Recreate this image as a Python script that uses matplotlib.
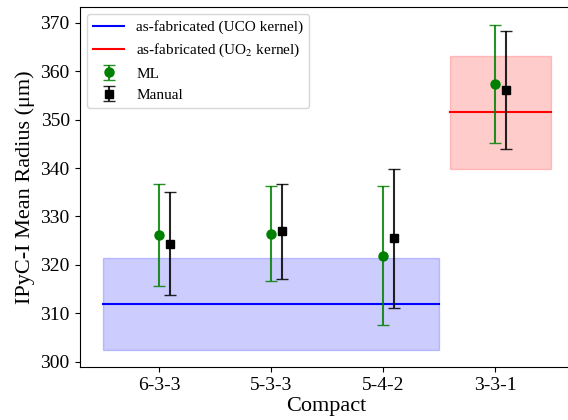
import matplotlib
matplotlib.use("Agg")
import matplotlib.pyplot as plt
import numpy as np

plt.rcParams['font.family'] = ['Liberation Serif', 'DejaVu Serif']
plt.rcParams['mathtext.fontset'] = 'stix'

# data
compacts = ['6-3-3', '5-3-3', '5-4-2', '3-3-1']
ml_mean = [326.2, 326.4, 321.9, 357.3]
ml_err = [10.6, 9.8, 14.3, 12.2]
manual_mean = [324.4, 326.9, 325.5, 356.1]
manual_err = [10.6, 9.8, 14.3, 12.2]

uco_mean, uco_std = 312.0, 9.5
uo2_mean, uo2_std = 351.5, 11.7
uco_span = [-0.5, 2.5]
uo2_span = [2.6, 3.5]

x = np.arange(len(compacts))
offset = 0.1

fig = plt.figure(figsize=(5.68, 4.2), dpi=100)
ax = fig.add_axes([0.140, 0.126, 0.870, 0.858])

ax.plot(uco_span, [uco_mean] * 2, color='blue', lw=1.5, label='as-fabricated (UCO kernel)')
ax.fill_between(uco_span, uco_mean - uco_std, uco_mean + uco_std, color='blue', alpha=0.2)
ax.plot(uo2_span, [uo2_mean] * 2, color='red', lw=1.5, label='as-fabricated (UO$_2$ kernel)')
ax.fill_between(uo2_span, uo2_mean - uo2_std, uo2_mean + uo2_std, color='red', alpha=0.2)

ax.errorbar(x, ml_mean, yerr=ml_err, fmt='o', color='green', ecolor=(0, 0.5, 0, 0.85),
            capsize=4.5, ms=6.5, elinewidth=1.5, label='ML')
ax.errorbar(x + offset, manual_mean, yerr=manual_err, fmt='s', color='black', ecolor=(0, 0, 0, 0.85),
            capsize=4.5, ms=6, elinewidth=1.5, label='Manual')

ax.set_xticks(x)
ax.set_xticklabels(compacts, fontsize=14)
ax.tick_params(axis='y', labelsize=14)
ax.set_xlim(-0.71, 3.70)
ax.set_ylim(298.9, 373.3)
ax.set_yticks(np.arange(300, 371, 10))
ax.set_xlabel('Compact', fontsize=16, labelpad=2)
ax.set_ylabel('IPyC-I Mean Radius (μm)', fontsize=16)
ax.legend(loc='upper left', fontsize=11)

fig.savefig('out.png', dpi=100)
